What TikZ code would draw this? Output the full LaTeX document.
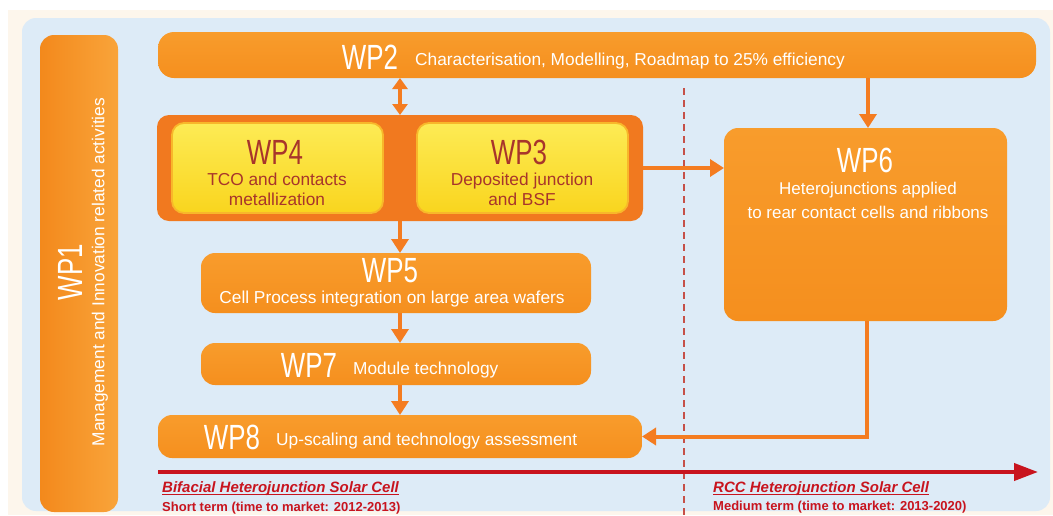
\documentclass[tikz,border=0pt]{standalone}
\usepackage{fontspec}
\setmainfont{Liberation Sans}
\usetikzlibrary{arrows.meta,calc}

\definecolor{creamBg}{HTML}{FDF6EC}
\definecolor{panelBlue}{HTML}{DDEBF7}
\definecolor{orTop}{HTML}{F89C2C}
\definecolor{orBot}{HTML}{F58F1E}
\definecolor{orDark}{HTML}{F1791F}
\definecolor{orLeft}{HTML}{F3891C}
\definecolor{orRight}{HTML}{F9A43A}
\definecolor{yelTop}{HTML}{FDEB55}
\definecolor{yelBot}{HTML}{F9D51E}
\definecolor{yelEdge}{HTML}{F8B72A}
\definecolor{wpRed}{HTML}{A8352B}
\definecolor{arrowC}{HTML}{F47C20}
\definecolor{tlRed}{HTML}{C8141E}
\definecolor{dashRed}{HTML}{C65048}

% tall, narrow work-package labels
\newcommand\wplabel[1]{\scalebox{0.74}[1]{\fontsize{35}{35}\selectfont WP#1}}
% underline set just below the baseline
\newcommand\phaseul[1]{\setbox0\hbox{#1}\rlap{\rule[-2.4pt]{\wd0}{1.1pt}}\box0}

\tikzset{
  box/.style={rounded corners=14pt, inner sep=0pt, outer sep=0pt, anchor=north west},
  orangebox/.style={box, top color=orTop, bottom color=orBot},
  yellowbox/.style={box, rounded corners=12pt, draw=yelEdge, line width=1.8pt,
                    top color=yelTop, bottom color=yelBot},
  groupbox/.style={box, rounded corners=12pt, fill=orDark},
  conn/.style={draw=arrowC, line width=4pt, -{Triangle[length=14pt,width=17pt]}},
  dconn/.style={draw=arrowC, line width=4pt,
                {Triangle[length=11pt,width=15pt]}-{Triangle[length=11pt,width=15pt]}},
  wplab/.style={text=white, inner sep=0pt},
  wplabY/.style={text=wpRed, inner sep=0pt},
  desc/.style={text=white, inner sep=0pt, font=\fontsize{17.3}{22}\selectfont},
  descY/.style={text=wpRed, inner sep=0pt, align=center, font=\fontsize{17.3}{20}\selectfont},
  timeline/.style={draw=tlRed, line width=4pt, -{Triangle[length=24pt,width=17pt]}},
  phase/.style={text=tlRed, inner sep=0pt, anchor=west, font=\fontsize{15}{18}\selectfont\bfseries\itshape},
  term/.style={text=tlRed, inner sep=0pt, anchor=west, font=\fontsize{13}{16}\selectfont\bfseries},
  divider/.style={draw=dashRed, line width=1.4pt, dash pattern=on 7pt off 5pt}
}

\begin{document}
\begin{tikzpicture}[x=1pt,y=-1pt]
\useasboundingbox (0,0) rectangle (1053,515);

% backdrop
\fill[creamBg] (8,10) rectangle (1053,515);
\fill[panelBlue, rounded corners=14pt] (22,18) rectangle (1050,511);

% phase divider
\coordinate (d0) at (684,88);
\coordinate (d1) at (684,515);
\draw[divider] (d0) -- (d1);

% work-package boxes
\node[box, left color=orLeft, right color=orRight, minimum width=78pt, minimum height=477pt] (wp1) at (40,35) {};
\node[orangebox, minimum width=878pt, minimum height=46pt, rounded corners=16pt] (wp2) at (158,32) {};
\node[groupbox, minimum width=486pt, minimum height=106pt] (grp) at (157,115) {};
\node[yellowbox, minimum width=211pt, minimum height=90pt] (wp4) at (172,123) {};
\node[yellowbox, minimum width=211pt, minimum height=90pt] (wp3) at (417,123) {};
\node[orangebox, minimum width=283pt, minimum height=193pt] (wp6) at (724,128) {};
\node[orangebox, minimum width=390pt, minimum height=60pt] (wp5) at (201,253) {};
\node[orangebox, minimum width=390pt, minimum height=42pt] (wp7) at (201,343) {};
\node[orangebox, minimum width=484pt, minimum height=43pt] (wp8) at (158,415) {};

% labels
\node[wplab, rotate=90] (wp1lab) at (70,272) {\wplabel{1}};
\node[desc, rotate=90] (wp1txt) at (100,272) {Management and Innovation related activities};

\node[wplab] (wp2lab) at (370,57) {\wplabel{2}};
\node[desc, anchor=west] (wp2txt) at (415,61) {Characterisation, Modelling, Roadmap to 25\% efficiency};

\node[wplabY] (wp4lab) at (275,152) {\wplabel{4}};
\node[descY] (wp4txt) at (277,189) {TCO and contacts\\metallization};

\node[wplabY] (wp3lab) at (519,152) {\wplabel{3}};
\node[descY] (wp3txt) at (522,189) {Deposited junction\\and BSF};

\node[wplab] (wp6lab) at (865,160) {\wplabel{6}};
\node[desc, align=center, font=\fontsize{17}{24}\selectfont] (wp6txt) at (868,200) {Heterojunctions applied\\to rear contact cells and ribbons};

\node[wplab] (wp5lab) at (390,271) {\wplabel{5}};
\node[desc] (wp5txt) at (392,299) {Cell Process integration on large area wafers};

\node[wplab] (wp7lab) at (309,365) {\wplabel{7}};
\node[desc, anchor=west] (wp7txt) at (353,370) {Module technology};

\node[wplab] (wp8lab) at (232,437) {\wplabel{8}};
\node[desc, anchor=west] (wp8txt) at (276,441) {Up-scaling and technology assessment};

% connectors
\coordinate (cx) at (400,0);
\coordinate (cr) at (868,0);
\coordinate (fb) at (867,0);
\draw[dconn] (wp2.south -| cx) -- (grp.north -| cx);
\draw[conn] (grp.south -| cx) -- (wp5.north -| cx);
\draw[conn] (wp5.south -| cx) -- (wp7.north -| cx);
\draw[conn] (wp7.south -| cx) -- (wp8.north -| cx);
\draw[conn] (wp2.south -| cr) -- (wp6.north -| cr);
\draw[conn] (grp.east) -- (wp6.west |- grp.east);
\draw[conn] (wp6.south -| fb) |- (wp8.east);

% time axis
\coordinate (t0) at (158,472);
\coordinate (t1) at (1038,472);
\draw[timeline] (t0) -- (t1);

\node[phase] (ph1) at (162,489) {\phaseul{Bifacial Heterojunction Solar Cell}};
\node[term] (tm1) at (162,508) {Short term (time to market: 2012-2013)};
\node[phase] (ph2) at (713,489) {\phaseul{RCC Heterojunction Solar Cell}};
\node[term] (tm2) at (713,507) {Medium term (time to market: 2013-2020)};
\end{tikzpicture}
\end{document}
